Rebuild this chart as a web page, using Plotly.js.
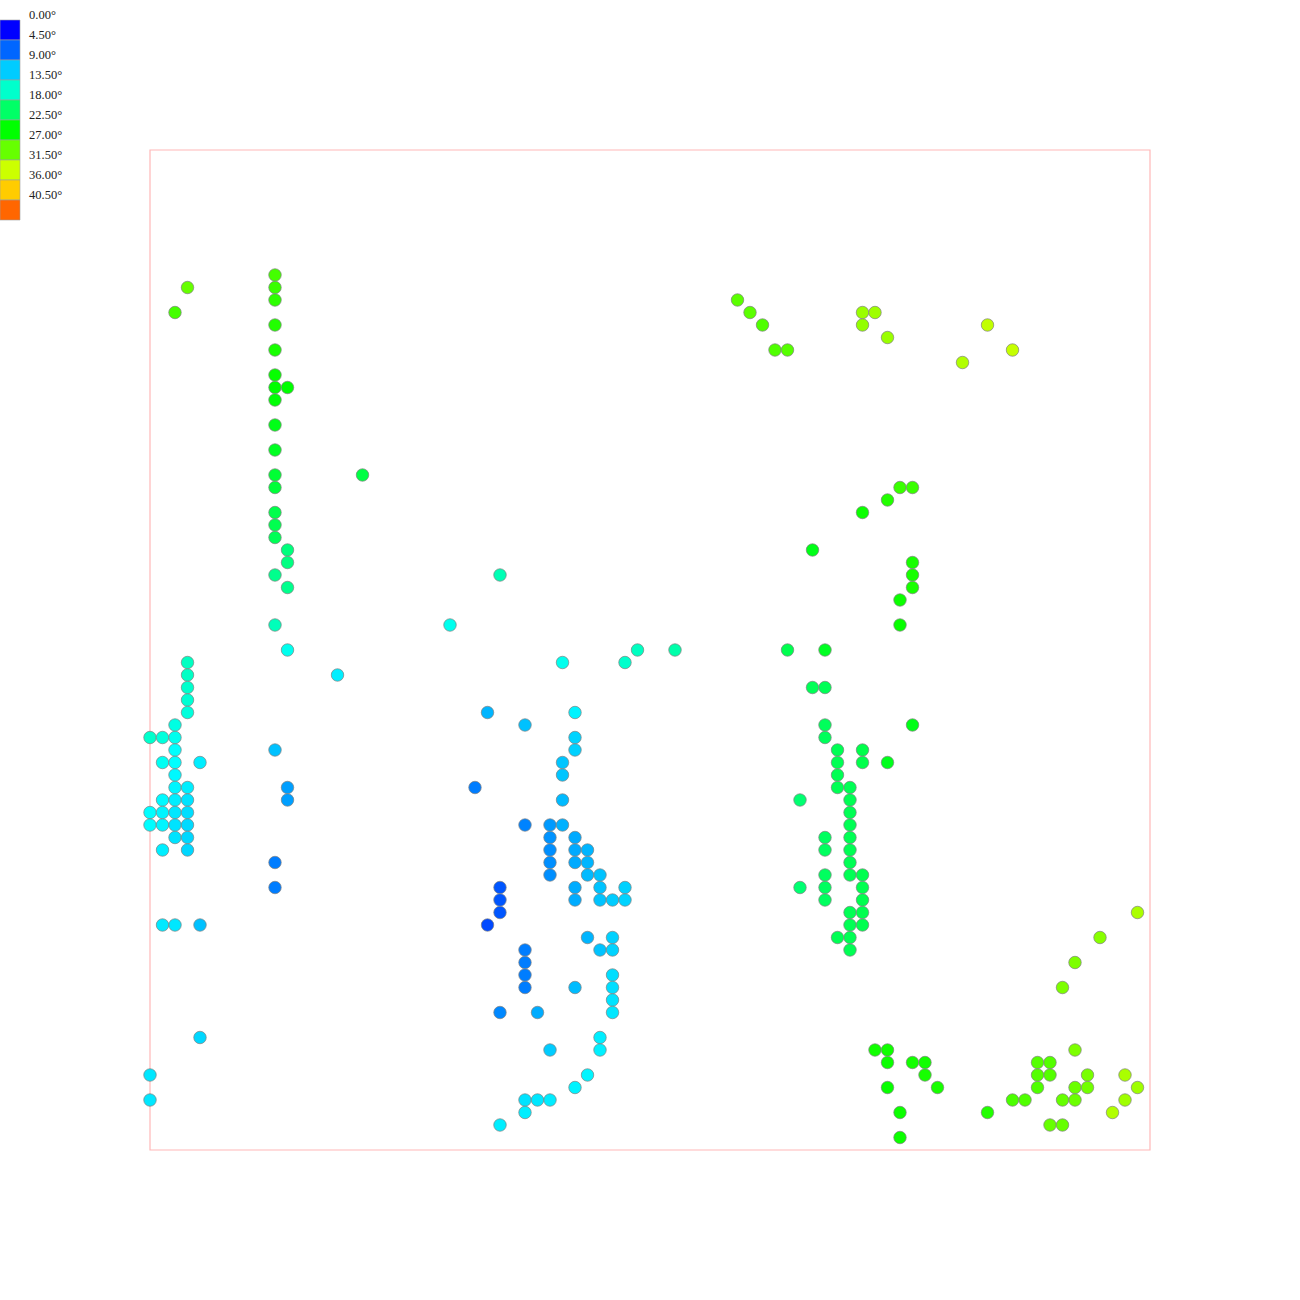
<!DOCTYPE html>
<html>
<head>
<meta charset="utf-8">
<script src="https://cdn.plot.ly/plotly-3.0.1.min.js"></script>
<style>html,body{margin:0;padding:0;background:#fff;}#chart{width:1300px;height:1300px;}</style>
</head>
<body>
<div id="chart"></div>
<script>
// grid columns (x), grid rows (y, counted from top) and angle values (degrees)
const cols = [
 3,2,
 10,10,10,10,10,10,10,10,10,10,10,10,10,10,10,10,10,
 11,11,11,11,11,
 17,28,24,15,
 3,3,3,3,3,2,0,1,2,2,1,2,4,2,2,3,1,2,3,0,1,2,3,0,1,2,3,2,3,1,3,1,2,4,4,0,0,
 10,11,11,10,10,
 27,34,30,34,34,33,33,26,33,30,32,33,32,34,32,34,35,32,34,35,32,35,36,28,34,36,38,28,34,36,37,38,28,27,35,37,30,36,37,30,30,37,30,34,37,37,28,31,37,36,36,32,35,34,30,31,32,30,28,
 33,38,39,42,
 51,54,53,54,54,54,55,57,55,57,59,55,55,56,52,56,56,56,54,56,54,56,56,54,56,57,52,54,57,54,57,56,57,56,57,55,56,56,61,
 60,61,59,57,53,61,61,61,60,60,
 47,48,49,50,51,57,58,57,59,67,65,69,
 79,76,74,73,
 58,59,59,61,62,62,59,63,60,60,67,
 74,71,72,71,72,71,75,74,75,78,79,69,70,73,74,78,77,72,73
];
const rows = [
 11,13,
 10,11,12,14,16,18,19,20,22,24,26,27,29,30,31,34,38,
 19,32,33,35,40,
 26,34,38,42,
 41,42,43,44,45,46,47,47,47,48,49,49,49,50,51,51,52,52,52,53,53,53,53,54,54,54,54,55,55,56,56,62,62,62,71,74,76,
 48,51,52,57,59,
 45,45,46,47,48,49,50,51,52,54,54,54,55,55,56,56,56,57,57,57,58,58,58,59,59,59,59,60,60,60,60,60,61,62,63,63,64,64,64,65,66,66,67,67,67,68,69,69,69,71,72,72,74,75,76,76,76,77,78,
 41,41,40,40,
 40,40,43,43,46,47,48,48,49,49,49,50,51,51,52,52,53,54,55,55,56,56,57,58,58,58,59,59,59,60,60,61,61,62,62,63,63,64,46,
 27,27,28,29,32,33,34,35,36,38,
 12,13,14,16,16,13,13,14,15,14,17,16,
 61,63,65,67,
 72,72,73,73,73,74,75,75,77,79,77,
 72,73,73,74,74,75,74,75,75,74,75,76,76,76,76,76,77,78,78
];
const angles = [
 27,25.5,
 25.5,25,24.5,24,23.5,22.8,22.5,22.3,21.5,21,20.2,20,19.2,19,18.7,16.3,14.3,
 22.5,17,16.8,16.3,12,
 19.5,14.5,12,10.5,
 14,13.8,13.5,13.2,12.8,12.5,13.5,12.8,12,11.3,11.8,11.2,10.5,11,10.8,10.5,11,10.5,10,11.2,10.8,10.2,9.8,11.2,10.8,10,9.6,10,9.5,10.5,9.5,10.3,10.2,8.5,9.5,10.2,10.2,
 8.5,7,7,5.5,5.5,
 8,10.7,8.5,9.3,9.2,8.7,8.7,5.5,8.2,5.8,6.8,7.8,6.5,7.5,6.3,7.5,8,6.3,7.5,8,6.3,8.2,8.6,3.8,7.6,8.6,9.2,3.8,7.6,8.6,9,9.3,3.8,3.2,8,9.2,5.5,8.6,9.3,5.5,5.5,9.8,5.5,8.3,9.8,10,6,7.6,10.2,10.5,10.6,9,10.8,10.7,10,10.2,10.4,10.5,10.5,
 12,13.5,14,15,
 19,21,18.7,18.7,18.5,18.5,18.8,19.2,18.8,19.2,21.3,18.8,18.8,18.8,17.5,18.8,18.8,18.8,18.3,18.8,18.3,18.8,18.8,18.3,18.8,19,17.5,18.3,19,18.3,19,18.8,19,18.8,19,18.8,18.8,18.8,21.5,
 25,25,24,23,21.5,23.5,23.5,23.5,23,22.8,
 26.5,26.5,26,26,26.3,29.3,29.5,29,29.3,31,30.3,31.2,
 30,28.5,28,28,
 23.2,23.2,23,23.3,23.3,23.5,22.8,23.5,23,23,24,
 28,26.2,26.2,26.2,26.2,26,27.8,27.2,27.5,30,29.5,25.8,26,27,27.2,29.5,30.3,27,27
];
// legend classes
const legendValues = [0, 4.5, 9, 13.5, 18, 22.5, 27, 31.5, 36, 40.5];
const angleMax = 45;

const scale = [[0,'#0000ff'],[0.25,'#00ffff'],[0.5,'#00ff00'],[0.75,'#ffff00'],[1,'#ff0000']];
function colorFor(v){
  const t = v/angleMax;
  for (let i=0;i<scale.length-1;i++){
    const a=scale[i], b=scale[i+1];
    if (t>=a[0] && t<=b[0]){
      const f=(t-a[0])/(b[0]-a[0]);
      const ca=[1,3,5].map(k=>parseInt(a[1].substr(k,2),16));
      const cb=[1,3,5].map(k=>parseInt(b[1].substr(k,2),16));
      const c=ca.map((x,j)=>Math.round(x+(cb[j]-x)*f));
      return 'rgb('+c.join(',')+')';
    }
  }
  return scale[scale.length-1][1];
}

const trace = {
  type:'scatter', mode:'markers',
  x: cols, y: rows, cliponaxis:false,
  marker:{size:12.5, color: angles, cmin:0, cmax:angleMax, colorscale: scale, showscale:false,
          line:{color:'#808080', width:0.7}},
  hoverinfo:'skip'
};

// plot area is 1000 px wide/high starting at 150 px
const shapes = [{type:'rect', xref:'paper', yref:'paper', x0:0, x1:1, y0:0, y1:1,
  line:{color:'#ffb8b8', width:1.2}, layer:'below'}];
const annotations = [];
const px = 1/1000;
legendValues.forEach((v,i)=>{
  const top = 1 + (150-20-20*i)*px;
  shapes.push({type:'rect', xref:'paper', yref:'paper',
    x0:-150*px, x1:-130*px, y0:top-20*px, y1:top,
    fillcolor: colorFor(v), line:{color:'#a0a0a0', width:0.6}});
  annotations.push({xref:'paper', yref:'paper', x:-123*px, y:top+5*px,
    xanchor:'left', yanchor:'middle', showarrow:false,
    text: v.toFixed(2)+'°', font:{family:'Liberation Serif, Times New Roman, serif', size:12.5, color:'#222'}});
});

const layout = {
  width:1300, height:1300,
  margin:{l:150, r:150, t:150, b:150, pad:0},
  paper_bgcolor:'#fff', plot_bgcolor:'#fff',
  showlegend:false,
  xaxis:{range:[0,80], showgrid:false, zeroline:false, showticklabels:false, ticks:'', showline:false},
  yaxis:{range:[80,0], showgrid:false, zeroline:false, showticklabels:false, ticks:'', showline:false},
  shapes: shapes, annotations: annotations
};
Plotly.newPlot('chart', [trace], layout, {displayModeBar:false, staticPlot:true});
</script>
</body>
</html>
